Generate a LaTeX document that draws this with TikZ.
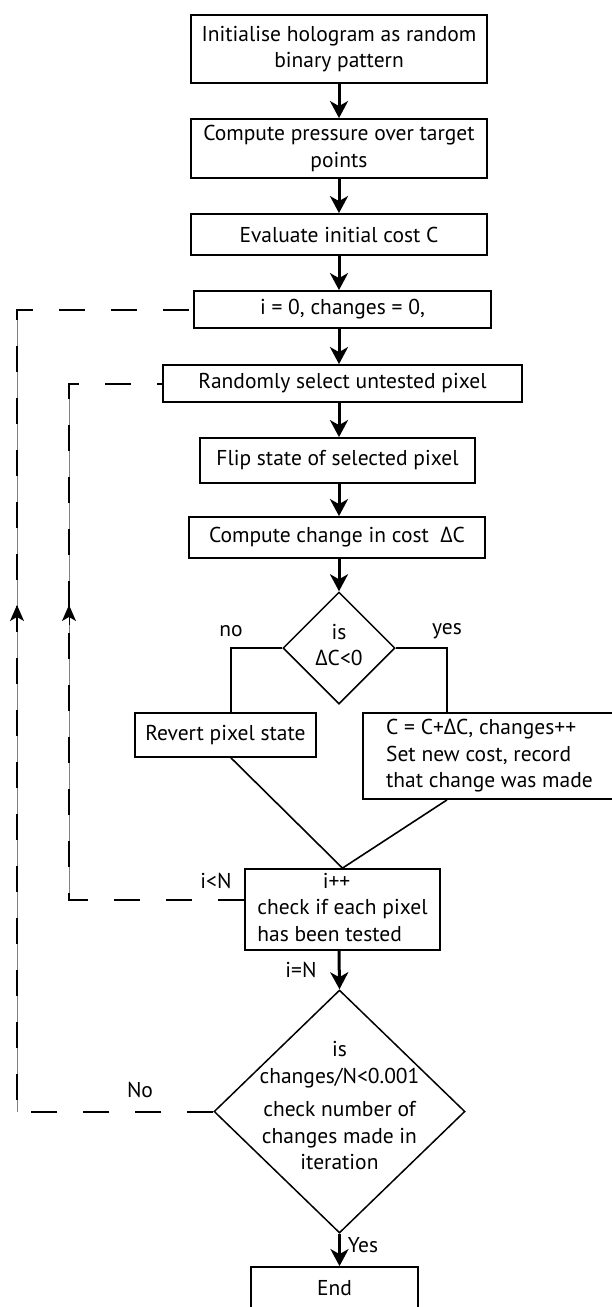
\documentclass[tikz,border=0pt]{standalone}
\usepackage{fontspec}
\setmainfont{PT Sans}
\newfontfamily\grk{Open Sans}
\usetikzlibrary{arrows.meta,shapes.geometric,calc}
\newcommand{\DC}{{\grk Δ}C}
\begin{document}
\begin{tikzpicture}[x=1pt,y=-1pt,
  every node/.style={font=\fontsize{21.5}{26.5}\selectfont, inner sep=0pt},
  box/.style={draw, line width=1.8pt, align=center},
  arr/.style={line width=3pt, -{Stealth[length=17pt,width=18pt,inset=5pt]}},
  plain/.style={line width=1.6pt},
  loopline/.style={line width=2pt, dash pattern=on 26pt off 26pt},
  guide/.style={line width=0.6pt, gray},
  dia/.style={draw, diamond, line width=1.5pt, inner sep=0pt}]
\useasboundingbox (0,0) rectangle (611,1307);
% boxes
\node[box, minimum width=296, minimum height=68] (b1) at (339,49) {Initialise hologram as random\\binary pattern};
\node[box, minimum width=296, minimum height=59] (b2) at (339,148.5) {Compute pressure over target\\points};
\node[box, minimum width=296, minimum height=41] (b3) at (339,234.5) {Evaluate initial cost C};
\node[box, minimum width=297, minimum height=37] (b4) at (342.5,309.5) {i = 0, changes = 0,};
\node[box, minimum width=359, minimum height=37] (b5) at (342.5,383.5) {Randomly select untested pixel};
\node[box, minimum width=275, minimum height=45] (b6) at (337.5,460.5) {Flip state of selected pixel};
\node[box, minimum width=296, minimum height=41] (b7) at (337,537.5) {Compute change in cost\ \ \DC};
\node[dia, minimum width=112, minimum height=112] (d1) at (339,648) {};
\node[align=center] (d1t) at (339,645) {is\\\DC<0};
\node[box, minimum width=181, minimum height=44] (rev) at (225.5,735) {Revert pixel state};
\node[box, minimum width=253, minimum height=86, align=left] (cb) at (489.5,756) {C = C+\DC, changes++\\Set new cost, record\\that change was made};
\node[box, minimum width=195, minimum height=81] (ib) at (342.5,909.5) {\begin{tabular}{@{}l@{}}\multicolumn{1}{c}{\hspace*{-12pt}i++}\\check if each pixel\\has been tested\end{tabular}};
\node[dia, minimum width=251, minimum height=243] (d2) at (339.5,1111.5) {};
\node[align=center] (d2t) at (339.5,1106) {is\\changes/N<0.001\\[7pt]check number of\\changes made in\\iteration};
\node[box, minimum width=167, minimum height=53] (end) at (334.5,1293.5) {};
\node (endt) at (334.5,1288) {End};
% labels
\node (lno) at (231,631) {no};
\node (lyes) at (447,631) {yes};
\node (llt) at (216,881) {i<N};
\node (leq) at (301,970) {i=N};
\node (lNo) at (140,1090) {No};
\node (lYes) at (363,1245) {Yes};
% main arrows
\draw[arr] (b1.south) -- (b1.south |- b2.north);
\draw[arr] (b2.south) -- (b2.south |- b3.north);
\draw[arr] (b3.south) -- (b3.south |- b4.north);
\draw[arr] (b1.south |- b4.south) -- (b1.south |- b5.north);
\draw[arr] (b1.south |- b5.south) -- (b1.south |- b6.north);
\draw[arr] (b1.south |- b6.south) -- (b1.south |- b7.north);
\draw[arr] (b1.south |- b7.south) -- (d1.north);
\draw[arr] (d1.north |- ib.south) -- (d2.north);
\draw[arr] (d2.south) -- (d2.south |- end.north);
% branches
\coordinate (nl) at ($(rev.north)+(5.5,0)$);
\coordinate (yr) at (447,713);
\draw[plain, line width=2.2pt] (d1.west) -| (nl);
\draw[plain, line width=2.2pt] (d1.east) -| (yr);
\draw[plain] ($(rev.south)+(5.5,0)$) -- (ib.north);
\draw[plain] (yr |- cb.south) -- (ib.north);
% loop lines
\coordinate (oc1) at (17,309.5);
\coordinate (oc2) at (17,1111.5);
\coordinate (ic1) at (69,383.5);
\coordinate (ic2) at (69,900);
\draw[guide] (oc1) -- (oc2);
\draw[guide] (ic1) -- (ic2);
\draw[loopline] (d2.west) -- (oc2) -- (oc1) -- (b4.west);
\draw[loopline] ($(ib.west)+(0,-9.5)$) -- (ic2) -- (ic1) -- (b5.west);
\draw[line width=1pt, -{Stealth[length=16pt,width=14pt,inset=4pt]}] (17,625) -- (17,605);
\draw[line width=1pt, -{Stealth[length=16pt,width=14pt,inset=4pt]}] (69,625) -- (69,605);
\end{tikzpicture}
\end{document}
